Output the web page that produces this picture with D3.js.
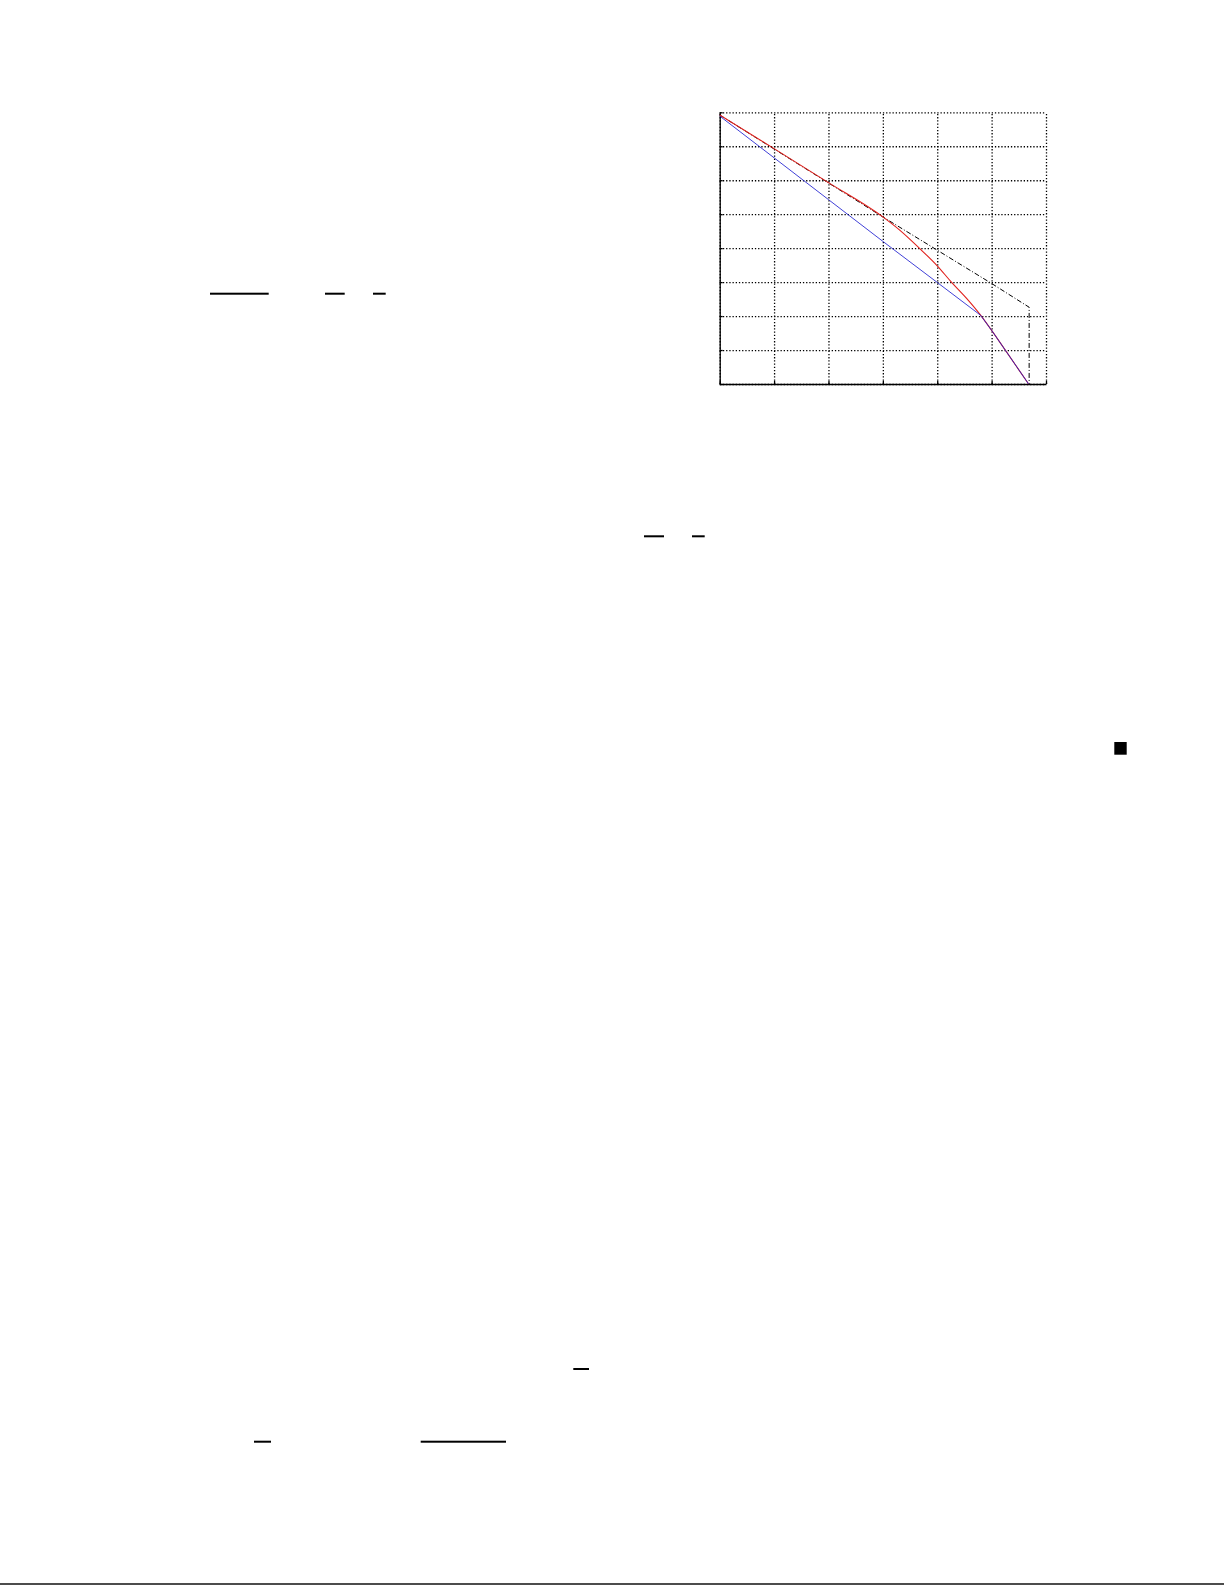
<!DOCTYPE html>
<html>
<head>
<meta charset="utf-8">
<script src="https://cdn.jsdelivr.net/npm/d3@7"></script>
<style>
  html, body { margin: 0; padding: 0; background: #fff; }
  svg { display: block; }
</style>
</head>
<body>
<div id="page"></div>
<script>
// tick positions (labels did not render in the source page)
const xTicks = [0, 1, 2, 3, 4, 5, 6];
const yTicks = [0, 1, 2, 3, 4, 5, 6, 7, 8];

// red curve
const redX = [0, 1, 2, 3, 3.31, 3.67, 4.0, 4.26, 4.54, 4.8, 5.0, 5.28, 5.68];
const redY = [7.92, 6.93, 5.93, 4.92, 4.53, 4.0, 3.48, 3.0, 2.52, 2.02, 1.58, 0.93, 0];

// blue curve
const blueX = [0, 1, 2, 3, 4, 4.8, 5.0, 5.28, 5.68];
const blueY = [7.89, 6.66, 5.43, 4.2, 2.99, 2.02, 1.58, 0.93, 0];

// black dash-dot bound
const boundX = [0, 3, 4, 5, 5.69, 5.69];
const boundY = [7.92, 4.92, 3.94, 2.96, 2.26, 0];

const W = 1225, H = 1585;
const chart = { left: 719.7, top: 112.3, width: 326.3, height: 271.7 };

const svg = d3.select('#page')
  .append('svg')
  .attr('width', W)
  .attr('height', H);

const g = svg.append('g')
  .attr('transform', `translate(${chart.left},${chart.top})`);

const x = d3.scaleLinear().domain([0, 6]).range([0, chart.width]);
const y = d3.scaleLinear().domain([0, 8]).range([chart.height, 0]);

// dotted grid
g.append('g')
  .attr('class', 'grid')
  .call(d3.axisBottom(x).tickValues(xTicks).tickSize(-chart.height).tickFormat(''))
  .attr('transform', `translate(0,${chart.height})`)
  .call(s => s.select('.domain').remove());
g.append('g')
  .attr('class', 'grid')
  .call(d3.axisLeft(y).tickValues(yTicks).tickSize(-chart.width).tickFormat(''))
  .call(s => s.select('.domain').remove());
g.selectAll('.grid line')
  .attr('stroke', '#000')
  .attr('stroke-width', 1.3)
  .attr('stroke-dasharray', '1.3,1.9');

// solid left and bottom axes with small inward ticks
g.append('g')
  .attr('transform', `translate(0,${chart.height})`)
  .call(d3.axisBottom(x).tickValues(xTicks).tickSize(-3).tickSizeOuter(0).tickFormat(''))
  .call(s => s.selectAll('path,line').attr('stroke', '#000').attr('stroke-width', 1.3));
g.append('g')
  .call(d3.axisLeft(y).tickValues(yTicks).tickSize(-3).tickSizeOuter(0).tickFormat(''))
  .call(s => s.selectAll('path,line').attr('stroke', '#000').attr('stroke-width', 1.3));

const zip = (a, b) => a.map((v, i) => [v, b[i]]);
const straight = d3.line().x(d => x(d[0])).y(d => y(d[1]));
const smooth = d3.line().x(d => x(d[0])).y(d => y(d[1])).curve(d3.curveMonotoneX);

g.append('path')
  .datum(zip(boundX, boundY))
  .attr('d', straight)
  .attr('fill', 'none')
  .attr('stroke', '#000')
  .attr('stroke-width', 1)
  .attr('stroke-dasharray', '5,2,1,2');

g.append('path')
  .datum(zip(redX, redY))
  .attr('d', smooth)
  .attr('fill', 'none')
  .attr('stroke', '#e0201c')
  .attr('stroke-width', 1.1);

g.append('path')
  .datum(zip(blueX, blueY))
  .attr('d', straight)
  .attr('fill', 'none')
  .attr('stroke', '#2020d0')
  .attr('stroke-width', 1)
  .attr('stroke-opacity', 0.85);

// rest of the page: only rules survived from the text (fraction bars, end mark, footer rule)
const rules = [
  [210, 292.7, 58.7, 2], [325, 292.7, 19.7, 2], [373, 292.7, 12.7, 2],
  [644, 535.3, 20, 2], [692, 535.3, 12.7, 2],
  [1114.3, 742, 12.4, 12.7],
  [573.3, 1368, 15.7, 2],
  [254, 1440.7, 17, 2], [420.7, 1440.7, 85.3, 2],
  [0, 1583.3, 1224, 1.4]
];
svg.append('g')
  .selectAll('rect')
  .data(rules)
  .enter()
  .append('rect')
  .attr('x', d => d[0])
  .attr('y', d => d[1])
  .attr('width', d => d[2])
  .attr('height', d => d[3])
  .attr('fill', '#000');
</script>
</body>
</html>
